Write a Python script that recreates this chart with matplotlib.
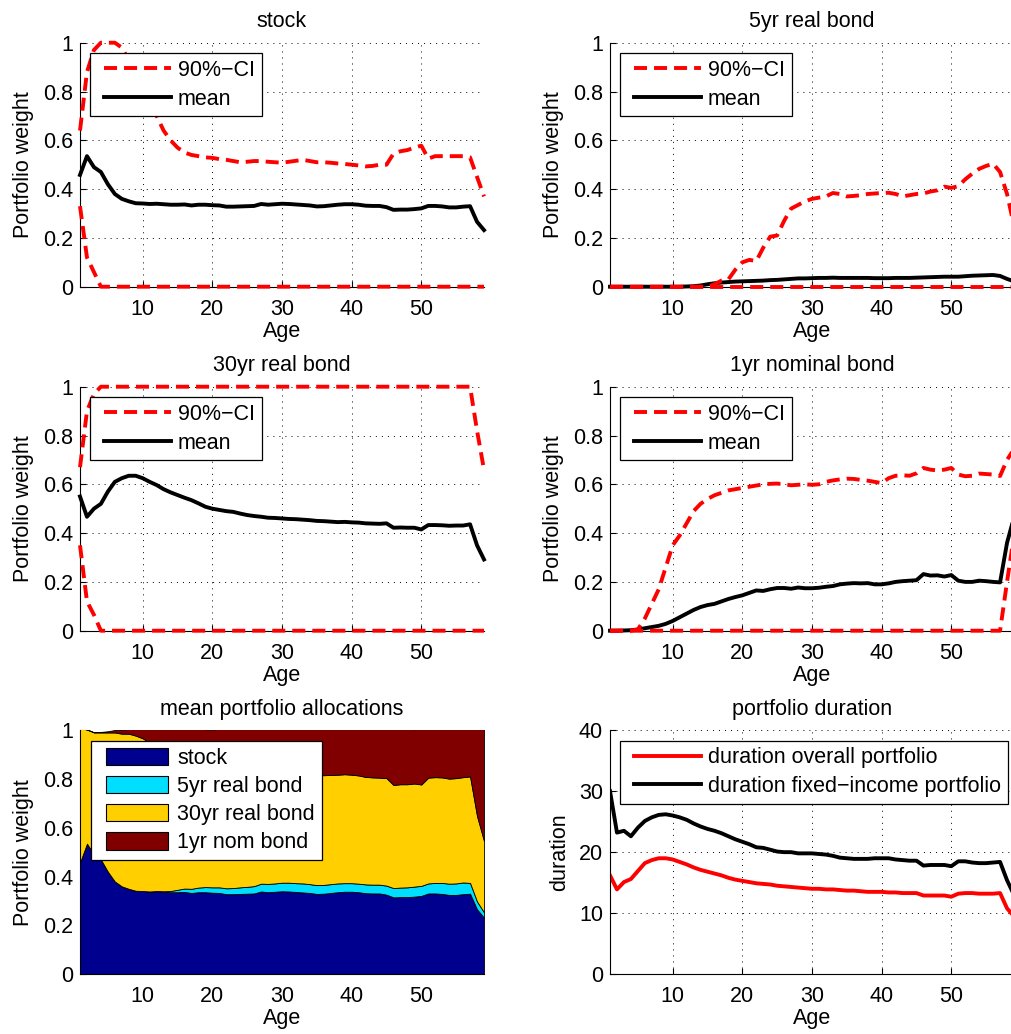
import matplotlib
matplotlib.use("Agg")
import matplotlib.pyplot as plt
from matplotlib.legend_handler import HandlerLine2D, HandlerPatch
from matplotlib.patches import Rectangle, Patch

plt.rcParams['font.family'] = ['Liberation Sans', 'DejaVu Sans']
plt.rcParams['font.size'] = 15.5

age = list(range(1, 60))

stock_mean = [0.458, 0.535, 0.49, 0.47, 0.42, 0.38, 0.36, 0.35, 0.342, 0.341,
              0.339, 0.34, 0.338, 0.336, 0.336, 0.337, 0.333, 0.336, 0.336, 0.334,
              0.333, 0.328, 0.328, 0.329, 0.33, 0.331, 0.339, 0.336, 0.338, 0.34,
              0.339, 0.337, 0.335, 0.333, 0.329, 0.33, 0.333, 0.336, 0.338, 0.338,
              0.336, 0.332, 0.331, 0.331, 0.326, 0.315, 0.316, 0.316, 0.318, 0.321,
              0.331, 0.331, 0.329, 0.325, 0.325, 0.328, 0.33, 0.266, 0.232]
stock_hi = [0.64, 0.88, 0.97, 1.0, 1.0, 1.0, 0.98, 0.93, 0.86, 0.80,
            0.75, 0.70, 0.64, 0.60, 0.57, 0.55, 0.54, 0.535, 0.53, 0.528,
            0.523, 0.52, 0.515, 0.51, 0.512, 0.515, 0.515, 0.512, 0.51, 0.508,
            0.512, 0.516, 0.52, 0.515, 0.51, 0.51, 0.508, 0.505, 0.503, 0.5,
            0.497, 0.493, 0.495, 0.5, 0.5, 0.545, 0.555, 0.56, 0.57, 0.578,
            0.525, 0.535, 0.535, 0.535, 0.535, 0.535, 0.53, 0.45, 0.37]
stock_lo = [0.33, 0.12, 0.06, 0, 0, 0, 0, 0, 0, 0,
            0, 0, 0, 0, 0, 0, 0, 0, 0, 0,
            0, 0, 0, 0, 0, 0, 0, 0, 0, 0,
            0, 0, 0, 0, 0, 0, 0, 0, 0, 0,
            0, 0, 0, 0, 0, 0, 0, 0, 0, 0,
            0, 0, 0, 0, 0, 0, 0, 0, 0]

real5_mean = [0, 0, 0, 0, 0, 0, 0, 0, 0, 0,
              0, 0.001, 0.002, 0.005, 0.01, 0.014, 0.017, 0.019, 0.021, 0.022,
              0.023, 0.024, 0.025, 0.027, 0.028, 0.03, 0.032, 0.034, 0.034, 0.035,
              0.036, 0.036, 0.037, 0.036, 0.036, 0.036, 0.036, 0.036, 0.035, 0.035,
              0.035, 0.036, 0.036, 0.036, 0.037, 0.038, 0.039, 0.04, 0.041, 0.041,
              0.041, 0.043, 0.045, 0.046, 0.047, 0.048, 0.044, 0.032, 0.022]
real5_hi = [0, 0, 0, 0, 0, 0, 0, 0, 0, 0,
            0, 0, 0, 0, 0, 0.01, 0.025, 0.03, 0.07, 0.1,
            0.11, 0.105, 0.16, 0.205, 0.21, 0.27, 0.32, 0.335, 0.35, 0.36,
            0.365, 0.37, 0.384, 0.38, 0.37, 0.372, 0.375, 0.38, 0.382, 0.384,
            0.385, 0.38, 0.37, 0.375, 0.38, 0.382, 0.39, 0.395, 0.41, 0.405,
            0.412, 0.44, 0.463, 0.483, 0.495, 0.504, 0.47, 0.38, 0.25]
real5_lo = [0, 0, 0, 0, 0, 0, 0, 0, 0, 0,
            0, 0, 0, 0, 0, 0, 0, 0, 0, 0,
            0, 0, 0, 0, 0, 0, 0, 0, 0, 0,
            0, 0, 0, 0, 0, 0, 0, 0, 0, 0,
            0, 0, 0, 0, 0, 0, 0, 0, 0, 0,
            0, 0, 0, 0, 0, 0, 0, 0, 0]

real30_mean = [0.55, 0.467, 0.50, 0.52, 0.57, 0.61, 0.625, 0.635, 0.635, 0.625,
               0.61, 0.597, 0.58, 0.567, 0.556, 0.545, 0.535, 0.522, 0.508, 0.50,
               0.495, 0.49, 0.487, 0.48, 0.474, 0.47, 0.467, 0.463, 0.462, 0.46,
               0.458, 0.457, 0.455, 0.453, 0.45, 0.449, 0.447, 0.445, 0.446, 0.444,
               0.443, 0.44, 0.439, 0.438, 0.44, 0.422, 0.423, 0.422, 0.422, 0.415,
               0.433, 0.433, 0.432, 0.43, 0.431, 0.431, 0.436, 0.35, 0.292]
real30_hi = [0.67, 0.9, 0.97, 1.0, 1.0, 1.0, 1.0, 1.0, 1.0, 1.0,
             1.0, 1.0, 1.0, 1.0, 1.0, 1.0, 1.0, 1.0, 1.0, 1.0,
             1.0, 1.0, 1.0, 1.0, 1.0, 1.0, 1.0, 1.0, 1.0, 1.0,
             1.0, 1.0, 1.0, 1.0, 1.0, 1.0, 1.0, 1.0, 1.0, 1.0,
             1.0, 1.0, 1.0, 1.0, 1.0, 1.0, 1.0, 1.0, 1.0, 1.0,
             1.0, 1.0, 1.0, 1.0, 1.0, 1.0, 1.0, 0.82, 0.66]
real30_lo = [0.35, 0.12, 0.065, 0, 0, 0, 0, 0, 0, 0,
             0, 0, 0, 0, 0, 0, 0, 0, 0, 0,
             0, 0, 0, 0, 0, 0, 0, 0, 0, 0,
             0, 0, 0, 0, 0, 0, 0, 0, 0, 0,
             0, 0, 0, 0, 0, 0, 0, 0, 0, 0,
             0, 0, 0, 0, 0, 0, 0, 0, 0]

nom1_mean = [0, 0, 0.001, 0.002, 0.005, 0.01, 0.015, 0.02, 0.028, 0.04,
             0.055, 0.07, 0.085, 0.097, 0.105, 0.11, 0.12, 0.13, 0.138, 0.145,
             0.155, 0.165, 0.163, 0.17, 0.175, 0.175, 0.172, 0.177, 0.174, 0.174,
             0.176, 0.18, 0.183, 0.19, 0.193, 0.195, 0.194, 0.195, 0.19, 0.19,
             0.194, 0.2, 0.203, 0.205, 0.207, 0.232, 0.226, 0.227, 0.222, 0.228,
             0.205, 0.2, 0.2, 0.205, 0.203, 0.2, 0.198, 0.36, 0.465]
nom1_hi = [0, 0, 0, 0, 0.005, 0.05, 0.11, 0.17, 0.26, 0.35,
           0.39, 0.44, 0.49, 0.52, 0.54, 0.555, 0.565, 0.575, 0.58, 0.585,
           0.59, 0.595, 0.6, 0.602, 0.603, 0.6, 0.596, 0.598, 0.6, 0.598,
           0.6, 0.61, 0.616, 0.62, 0.623, 0.622, 0.618, 0.615, 0.61, 0.605,
           0.625, 0.635, 0.637, 0.635, 0.645, 0.667, 0.66, 0.657, 0.66, 0.667,
           0.64, 0.633, 0.635, 0.644, 0.642, 0.64, 0.634, 0.70, 0.745]
nom1_lo = [0, 0, 0, 0, 0, 0, 0, 0, 0, 0,
           0, 0, 0, 0, 0, 0, 0, 0, 0, 0,
           0, 0, 0, 0, 0, 0, 0, 0, 0, 0,
           0, 0, 0, 0, 0, 0, 0, 0, 0, 0,
           0, 0, 0, 0, 0, 0, 0, 0, 0, 0,
           0, 0, 0, 0, 0, 0, 0, 0.2, 0.39]

dur_overall = [16.2, 13.9, 15.1, 15.6, 16.9, 18.2, 18.7, 19.0, 19.0, 18.8,
               18.4, 18.0, 17.5, 17.1, 16.8, 16.5, 16.2, 15.8, 15.5, 15.3,
               15.1, 14.9, 14.8, 14.7, 14.5, 14.4, 14.3, 14.2, 14.1, 14.0,
               14.0, 13.9, 13.9, 13.8, 13.7, 13.7, 13.6, 13.5, 13.5, 13.5,
               13.4, 13.4, 13.3, 13.3, 13.3, 12.9, 12.9, 12.9, 12.9, 12.7,
               13.2, 13.3, 13.3, 13.2, 13.2, 13.2, 13.3, 10.8, 9.5]
dur_fixed = [30.0, 23.2, 23.5, 22.6, 24.0, 25.1, 25.7, 26.1, 26.2, 26.0,
             25.7, 25.3, 24.7, 24.2, 23.8, 23.5, 23.1, 22.6, 22.1, 21.7,
             21.3, 20.8, 20.7, 20.4, 20.1, 20.0, 20.0, 19.8, 19.8, 19.8,
             19.7, 19.6, 19.4, 19.1, 19.0, 18.9, 18.9, 18.9, 19.0, 19.0,
             19.0, 18.8, 18.7, 18.6, 18.6, 17.8, 17.9, 17.9, 17.9, 17.7,
             18.5, 18.5, 18.3, 18.2, 18.2, 18.3, 18.4, 15.4, 13.0]

asset_names = ['stock', '5yr real bond', '30yr real bond', '1yr nom bond']
asset_colors = [(0, 0, 0.5625), (0, 0.875, 1), (1, 0.8125, 0), (0.5, 0, 0)]

weight_ticks = [0, 0.2, 0.4, 0.6, 0.8, 1]
weight_ticklabels = ['0', '0.2', '0.4', '0.6', '0.8', '1']
dur_ticks = [0, 10, 20, 30, 40]
age_ticks = [10, 20, 30, 40, 50]

FS = 15.5
PX = 100 / 72.0          # pixels per point at dpi 100
em = FS * PX
LW = 2.8
DASH = (0, (3.35, 1.8))

W, H = 1012, 1034
fig = plt.figure(figsize=(W / 100, H / 100), dpi=100)


def box(x0, y0, x1, y1):
    return [x0 / W, 1 - y1 / H, (x1 - x0) / W, (y1 - y0) / H]


cols = [(80, 484), (610, 1014)]
rows = [(42.7, 286.7), (386.7, 630.7), (730, 974.3)]


def make_axes(r, c):
    return fig.add_axes(box(cols[c][0], rows[r][0], cols[c][1], rows[r][1]))


def style(ax, yticks, yticklabels, ylim, ylabel, title, grid=True, ylabelpad=6.5):
    ax.set_xlim(1, 59)
    ax.set_ylim(*ylim)
    ax.set_xticks(age_ticks)
    ax.set_yticks(yticks)
    ax.set_yticklabels(yticklabels)
    for s in ('top', 'right'):
        ax.spines[s].set_visible(False)
    for s in ('left', 'bottom'):
        ax.spines[s].set_linewidth(0.8)
    ax.tick_params(direction='in', length=4, width=0.8, labelsize=FS)
    ax.tick_params(axis='y', pad=5)
    ax.tick_params(axis='x', pad=8.5)
    if grid:
        ax.grid(True, color='k', linewidth=0.7, linestyle=(0, (1, 5.2)))
    ax.set_xlabel('Age', labelpad=1)
    ax.set_ylabel(ylabel, labelpad=ylabelpad)
    ax.set_title(title, pad=11, fontsize=FS)


line_pad = 7.3 / em
line_handler = HandlerLine2D(numpoints=2, marker_pad=line_pad)


def line_legend(ax, handles, labels):
    leg = ax.legend(handles, labels, loc='upper left', bbox_to_anchor=(0, 1),
                    borderaxespad=10.5 / em, borderpad=0.31, labelspacing=0.358,
                    handlelength=3.75, handletextpad=0.0, fancybox=False,
                    framealpha=1, edgecolor='k', fontsize=FS,
                    handler_map={plt.Line2D: line_handler})
    leg.get_frame().set_linewidth(0.9)
    return leg


def ci_panel(ax, lo, hi, mean, title):
    hm, = ax.plot(age, mean, color='k', lw=LW, zorder=3, clip_on=False)
    hh, = ax.plot(age, hi, color='r', lw=LW, ls=DASH, zorder=4, clip_on=False)
    ax.plot(age, lo, color='r', lw=LW, ls=DASH, zorder=4, clip_on=False)
    style(ax, weight_ticks, weight_ticklabels, (0, 1), 'Portfolio weight', title)
    line_legend(ax, [hh, hm], ['90%\u2212CI', 'mean'])


ci_panel(make_axes(0, 0), stock_lo, stock_hi, stock_mean, 'stock')
ci_panel(make_axes(0, 1), real5_lo, real5_hi, real5_mean, '5yr real bond')
ci_panel(make_axes(1, 0), real30_lo, real30_hi, real30_mean, '30yr real bond')
ci_panel(make_axes(1, 1), nom1_lo, nom1_hi, nom1_mean, '1yr nominal bond')

# stacked mean allocations
ax5 = make_axes(2, 0)
ax5.stackplot(age, stock_mean, real5_mean, real30_mean, nom1_mean,
              colors=asset_colors, edgecolor='k', linewidth=0.6)
style(ax5, weight_ticks, weight_ticklabels, (0, 1), 'Portfolio weight',
      'mean portfolio allocations', grid=False)
ax5.set_axisbelow(True)

patch_inset = 6.2


def inset_rect(legend, orig_handle, xdescent, ydescent, width, height, fontsize):
    return Rectangle((-xdescent + patch_inset, -ydescent),
                     width - 2 * patch_inset, height)


proxies = [Patch(facecolor=c, edgecolor='k', linewidth=0.8) for c in asset_colors]
leg5 = ax5.legend(proxies, asset_names, loc='upper left', bbox_to_anchor=(0, 1),
                  borderaxespad=10.7 / em, borderpad=0.32, labelspacing=0.32,
                  handlelength=(67 + 2 * patch_inset) / em, handleheight=0.88,
                  handletextpad=0.02, fancybox=False, framealpha=1,
                  edgecolor='k', fontsize=FS,
                  handler_map={Patch: HandlerPatch(patch_func=inset_rect)})
leg5.get_frame().set_linewidth(0.9)

# portfolio duration
ax6 = make_axes(2, 1)
h_over, = ax6.plot(age, dur_overall, color='r', lw=LW)
h_fix, = ax6.plot(age, dur_fixed, color='k', lw=LW)
style(ax6, dur_ticks, [str(t) for t in dur_ticks], (0, 40), 'duration',
      'portfolio duration', ylabelpad=6.5)
line_legend(ax6, [h_over, h_fix],
            ['duration overall portfolio', 'duration fixed\u2212income portfolio'])

fig.savefig('out.png', dpi=100)
